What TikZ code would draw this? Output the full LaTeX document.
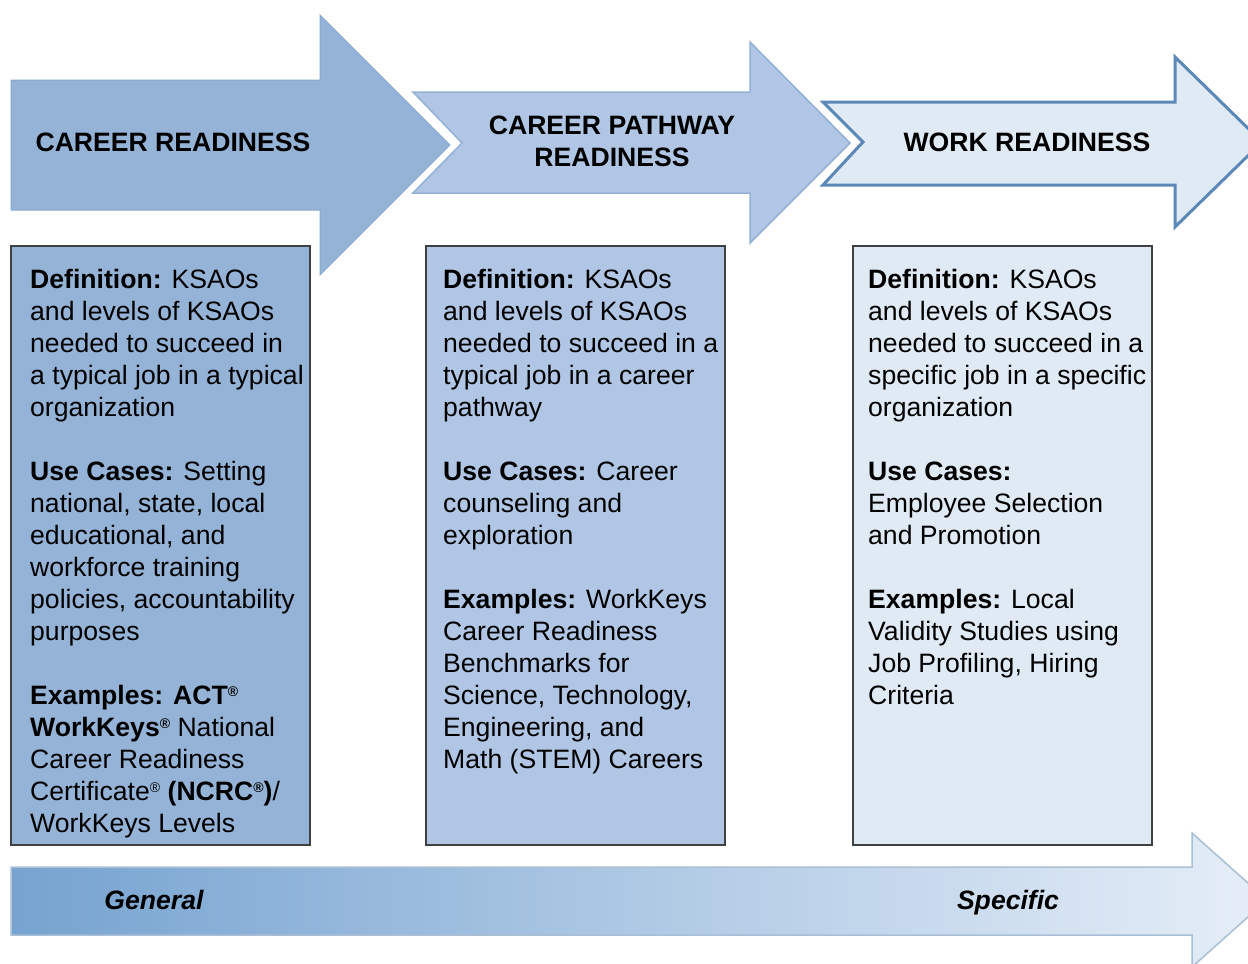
\documentclass[tikz,border=0pt]{standalone}
\usepackage{fontspec}
\setmainfont{Liberation Sans}
\definecolor{cA}{HTML}{95B3D7}
\definecolor{cAline}{HTML}{88A8CF}
\definecolor{cB}{HTML}{B0C6E4}
\definecolor{cBline}{HTML}{93B1D5}
\definecolor{cC}{HTML}{E0EAF5}
\definecolor{cCline}{HTML}{5B88B6}
\definecolor{boxline}{HTML}{404040}
\definecolor{gL}{HTML}{76A3D0}
\definecolor{gR}{HTML}{E6EEF8}
\definecolor{gline}{HTML}{A9BFD6}
\newcommand\regm{\raisebox{0.6ex}{\fontsize{14}{14}\selectfont ®}}
\begin{document}
\begin{tikzpicture}[x=1pt,y=-1pt,
  head/.style={font=\fontsize{26.6}{32}\selectfont\bfseries, align=center, inner sep=0},
  body/.style={font=\fontsize{26.6}{32}\selectfont, align=left, anchor=north west, inner sep=0},
  panel/.style={draw=boxline, line width=1.2pt, rectangle, minimum width=299pt, minimum height=599pt, inner sep=0},
  tag/.style={font=\fontsize{26.6}{32}\selectfont\bfseries\itshape, inner sep=0, anchor=base}]
\useasboundingbox (0,0) rectangle (1248,964);
\clip (0,0) rectangle (1248,964);
% arrow 1
\path[fill=cA, draw=cAline, line width=1pt]
  (11,80) -- (320,80) -- (320,15) -- (450,145) -- (320,275) -- (320,210) -- (11,210) -- cycle;
% arrow 2
\path[draw=white, line width=7pt, line join=miter]
  (413,92) -- (750,92) -- (750,42) -- (850,143) -- (750,243) -- (750,193) -- (413,193) -- (462,143) -- cycle;
\path[fill=cB, draw=cBline, line width=1.5pt]
  (413,92) -- (750,92) -- (750,42) -- (850,143) -- (750,243) -- (750,193) -- (413,193) -- (462,143) -- cycle;
% arrow 3
\path[draw=white, line width=8pt]
  (823,102) -- (1175,102) -- (1175,57) -- (1262,142) -- (1175,227) -- (1175,185) -- (823,185) -- (863,142) -- cycle;
\path[fill=cC, draw=cCline, line width=3pt]
  (823,102) -- (1175,102) -- (1175,57) -- (1262,142) -- (1175,227) -- (1175,185) -- (823,185) -- (863,142) -- cycle;
% bottom arrow
\path[left color=gL, right color=gR, draw=gline, line width=1.5pt]
  (11,867) -- (1192,867) -- (1192,833) -- (1267,900) -- (1192,967) -- (1192,935) -- (11,935) -- cycle;

\node[head] (h1) at (173,142) {CAREER READINESS};
\node[head] (h2) at (612,141) {CAREER PATHWAY\\READINESS};
\node[head] (h3) at (1027,142) {WORK READINESS};

\node[panel, fill=cA] (p1) at (160.5,545.5) {};
\node[panel, fill=cB] (p2) at (575.5,545.5) {};
\node[panel, fill=cC] (p3) at (1002.5,545.5) {};

\node[body] (t1) at (30,269) {\textbf{Definition:} KSAOs\\
and levels of KSAOs\\
needed to succeed in\\
a typical job in a typical\\
organization\\[32pt]
\textbf{Use Cases:} Setting\\
national, state, local\\
educational, and\\
workforce training\\
policies, accountability\\
purposes\\[32pt]
\textbf{Examples: ACT\regm}\\
\textbf{WorkKeys\regm} National\\
Career Readiness\\
Certificate\regm{} \textbf{(NCRC\regm)}/\\
WorkKeys Levels};

\node[body] (t2) at (443,269) {\textbf{Definition:} KSAOs\\
and levels of KSAOs\\
needed to succeed in a\\
typical job in a career\\
pathway\\[32pt]
\textbf{Use Cases:} Career\\
counseling and\\
exploration\\[32pt]
\textbf{Examples:} WorkKeys\\
Career Readiness\\
Benchmarks for\\
Science, Technology,\\
Engineering, and\\
Math (STEM) Careers};

\node[body] (t3) at (868,269) {\textbf{Definition:} KSAOs\\
and levels of KSAOs\\
needed to succeed in a\\
specific job in a specific\\
organization\\[32pt]
\textbf{Use Cases:}\\
Employee Selection\\
and Promotion\\[32pt]
\textbf{Examples:} Local\\
Validity Studies using\\
Job Profiling, Hiring\\
Criteria};

\node[tag] (g) at (154,909) {General};
\node[tag] (s) at (1008,909) {Specific};
\end{tikzpicture}
\end{document}
